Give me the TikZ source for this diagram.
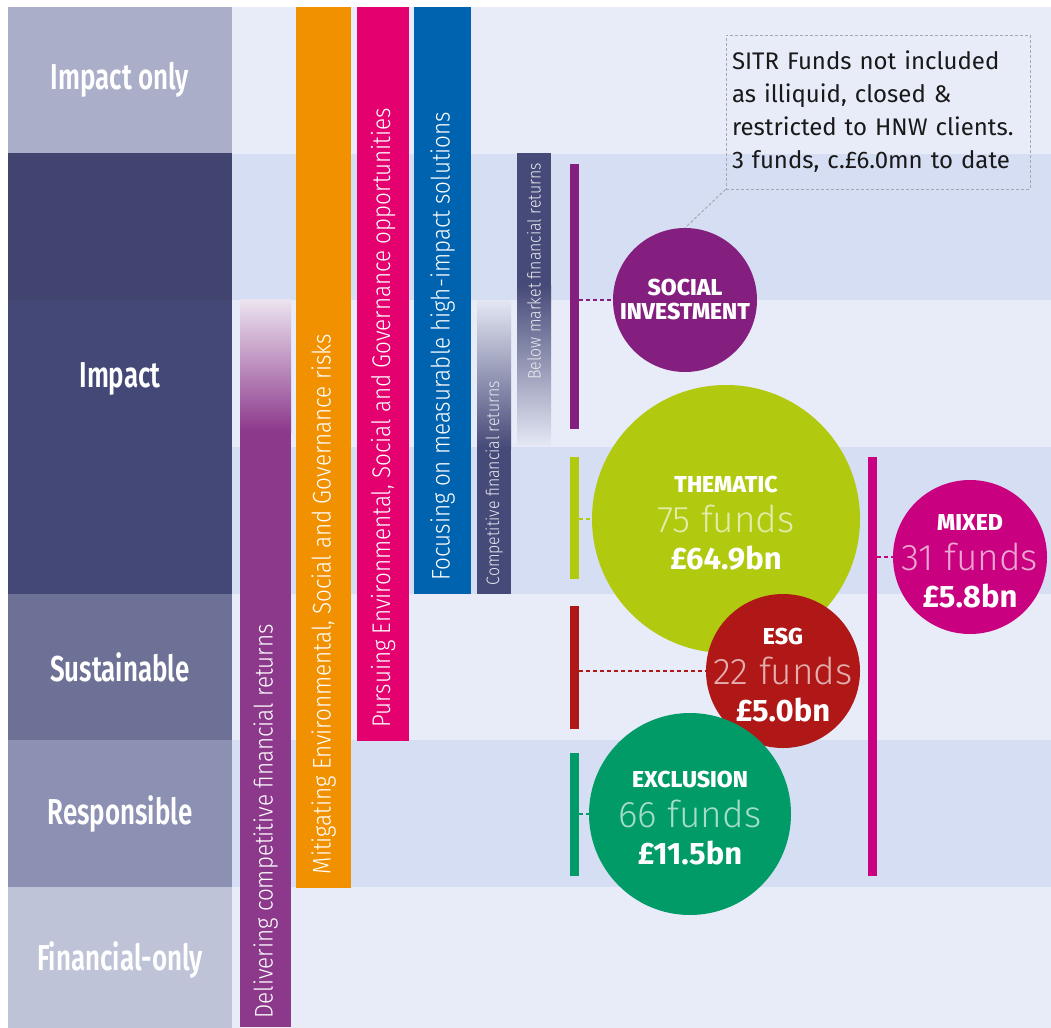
\documentclass[tikz,border=0pt]{standalone}
\usepackage{fontspec}
\setmainfont{Fira Sans}
\newfontfamily\lightfont{Fira Sans Light}
\newfontfamily\barfont[FakeStretch=0.88]{Fira Sans Light}
\newfontfamily\heavyfont{Fira Sans ExtraBold}
\newfontfamily\condfont[FakeStretch=0.72]{Fira Sans SemiBold}

\definecolor{bandlight}{HTML}{E8ECF8}
\definecolor{banddark}{HTML}{D5DEF2}
\definecolor{rowonly}{HTML}{AAAEC9}
\definecolor{rowimpact}{HTML}{40446F}
\definecolor{rowimpactb}{HTML}{444876}
\definecolor{rowsust}{HTML}{6E7196}
\definecolor{rowresp}{HTML}{8C91B3}
\definecolor{rowfin}{HTML}{BEC3D8}
\definecolor{delpurple}{HTML}{8C388B}
\definecolor{delpale}{HTML}{ECE4F0}
\definecolor{esgorange}{HTML}{F29100}
\definecolor{esgpink}{HTML}{E5006F}
\definecolor{solblue}{HTML}{0063AF}
\definecolor{retnavy}{HTML}{464A78}
\definecolor{navypale}{HTML}{E4E7F3}
\definecolor{socpurple}{HTML}{841F80}
\definecolor{themlime}{HTML}{B1C90E}
\definecolor{esgred}{HTML}{B01817}
\definecolor{exclgreen}{HTML}{009B67}
\definecolor{mixmagenta}{HTML}{C9007F}
\definecolor{notegray}{HTML}{A3A7AE}

\newcommand{\fundname}[1]{{\heavyfont\fontsize{23}{23}\selectfont\rule{0pt}{25pt}#1}}
\newcommand{\fundcount}[2]{{\lightfont\fontsize{37}{37}\selectfont\color{#1!35!white}#2}}
\newcommand{\fundsum}[1]{{\bfseries\fontsize{31}{31}\selectfont #1}}

\begin{document}
\begin{tikzpicture}[x=1pt, y=-1pt,
  rowcell/.style={rectangle, minimum width=224pt, inner sep=0pt, text=white,
    font=\condfont\fontsize{36}{36}\selectfont},
  bar/.style={rectangle, anchor=north west, inner sep=0pt},
  bartext/.style={rotate=90, anchor=west, inner sep=0pt, text=white,
    font=\barfont\fontsize{25.5}{25.5}\selectfont},
  smalltext/.style={bartext, text=white!88!retnavy, font=\barfont\fontsize{18}{18}\selectfont},
  tick/.style={rectangle, inner sep=0pt, minimum width=9pt},
  fund/.style={circle, inner sep=-20pt, align=center, text=white,
    font=\fontsize{23}{37}\selectfont},
  link/.style={dash pattern=on 4pt off 3pt, line width=1.5pt},
  note/.style={draw=notegray, dash pattern=on 3pt off 2pt, line width=0.9pt,
    text width=292pt, inner xsep=6pt, minimum height=154pt, align=left,
    text=black!90, font=\fontsize{24}{33}\selectfont}]
\useasboundingbox (0,0) rectangle (1051,1027);
\fill[white] (0,0) rectangle (1051,1027);

% background bands
\foreach \i/\c in {0/bandlight,1/banddark,2/bandlight,3/banddark,4/bandlight,5/banddark,6/bandlight}
  \fill[\c] (232,{7+146.67*\i}) rectangle (1051,{153.67+146.67*\i});

% left column
\fill[rowimpact] (8,153) rectangle (232,300);
\fill[rowimpactb] (8,300) rectangle (232,594);
\node[rowcell, fill=rowonly, minimum height=146pt] (only) at (120,80) {Impact only};
\node[rowcell] (impact) at (120,379) {Impact};
\node[rowcell, fill=rowsust, minimum height=146pt] (sust) at (120,667) {Sustainable};
\node[rowcell, fill=rowresp, minimum height=147pt] (resp) at (120,813.5) {Responsible};
\node[rowcell, fill=rowfin, minimum height=146pt] (fin) at (120,960) {Financial-only};

% vertical bars
\shade[top color=delpale, bottom color=delpurple] (240,299) rectangle (291,432);
\node[bar, fill=delpurple, minimum width=51pt, minimum height=596pt] (deliver) at (240,431) {};
\node[bar, fill=esgorange, minimum width=55pt, minimum height=881pt] (orange) at (296,7) {};
\node[bar, fill=esgpink, minimum width=52pt, minimum height=734pt] (pink) at (357,7) {};
\node[bar, fill=solblue, minimum width=57pt, minimum height=587pt] (blue) at (414,7) {};
\shade[top color=navypale, bottom color=retnavy] (477,300) rectangle (511,448);
\node[bar, fill=retnavy, minimum width=34pt, minimum height=147pt] (compet) at (477,447) {};
\node[bar, fill=retnavy, minimum width=34pt, minimum height=133pt] (below) at (517,153) {};
\shade[top color=retnavy, bottom color=navypale] (517,285) rectangle (551,445);

\node[bartext] at ([yshift=9pt]deliver.south) {Delivering competitive financial returns};
\node[bartext] at ([yshift=14pt]orange.south) {Mitigating Environmental, Social and Governance risks};
\node[bartext] at ([yshift=14pt]pink.south) {Pursuing Environmental, Social and Governance opportunities};
\node[bartext] at ([yshift=14pt]blue.south) {Focusing on measurable high-impact solutions};
\node[smalltext] at ([yshift=9pt]compet.south) {Competitive financial returns};
\node[smalltext] at (534,380) {Below market financial returns};

% strategy ticks
\node[tick, fill=socpurple, minimum height=265pt] (socline) at (574.5,296.5) {};
\node[tick, fill=themlime, minimum height=122pt] (themline) at (574.5,518) {};
\node[tick, fill=esgred, minimum height=123pt] (esgline) at (574.5,667.5) {};
\node[tick, fill=exclgreen, minimum height=123pt] (exclline) at (574.5,814.5) {};
\node[tick, fill=mixmagenta, minimum height=419pt] (mixline) at (872.5,666.5) {};

% funds
\node[fund, fill=socpurple, minimum size=144pt, font=\heavyfont\fontsize{23}{24}\selectfont]
  (social) at (685,300) {SOCIAL\\INVESTMENT};
\node[fund, fill=themlime, minimum size=268pt] (thematic) at (726,519)
  {\fundname{THEMATIC}\\[3pt]\fundcount{themlime}{75 funds}\\\fundsum{£64.9bn}};
\node[fund, fill=esgred, minimum size=154pt] (esg) at (783,671)
  {\fundname{ESG}\\[3pt]\fundcount{esgred}{22 funds}\\\fundsum{£5.0bn}};
\node[fund, fill=exclgreen, minimum size=202pt] (excl) at (690,814)
  {\fundname{EXCLUSION}\\[3pt]\fundcount{exclgreen}{66 funds}\\\fundsum{£11.5bn}};
\node[fund, fill=mixmagenta, minimum size=154pt] (mixed) at (970,557)
  {\fundname{MIXED}\\[3pt]\fundcount{mixmagenta}{31 funds}\\\fundsum{£5.8bn}};

\draw[link, socpurple] (socline.east |- social.west) -- (social.west);
\draw[link, themlime] (themline.east |- thematic.west) -- (thematic.west);
\draw[link, esgred] (esgline.east |- esg.west) -- (esg.west);
\draw[link, exclgreen] (exclline.east |- excl.west) -- (excl.west);
\draw[link, mixmagenta] (mixline.east |- mixed.west) -- (mixed.west);

% SITR note
\node[note] (sitr) at (878,112) {SITR Funds not included\\as illiquid, closed \&\\restricted to HNW clients.\\3 funds, c.£6.0mn to date};
\draw[notegray, dash pattern=on 3pt off 2pt, line width=0.9pt] (sitr.south west) -- (social.north);
\end{tikzpicture}
\end{document}
